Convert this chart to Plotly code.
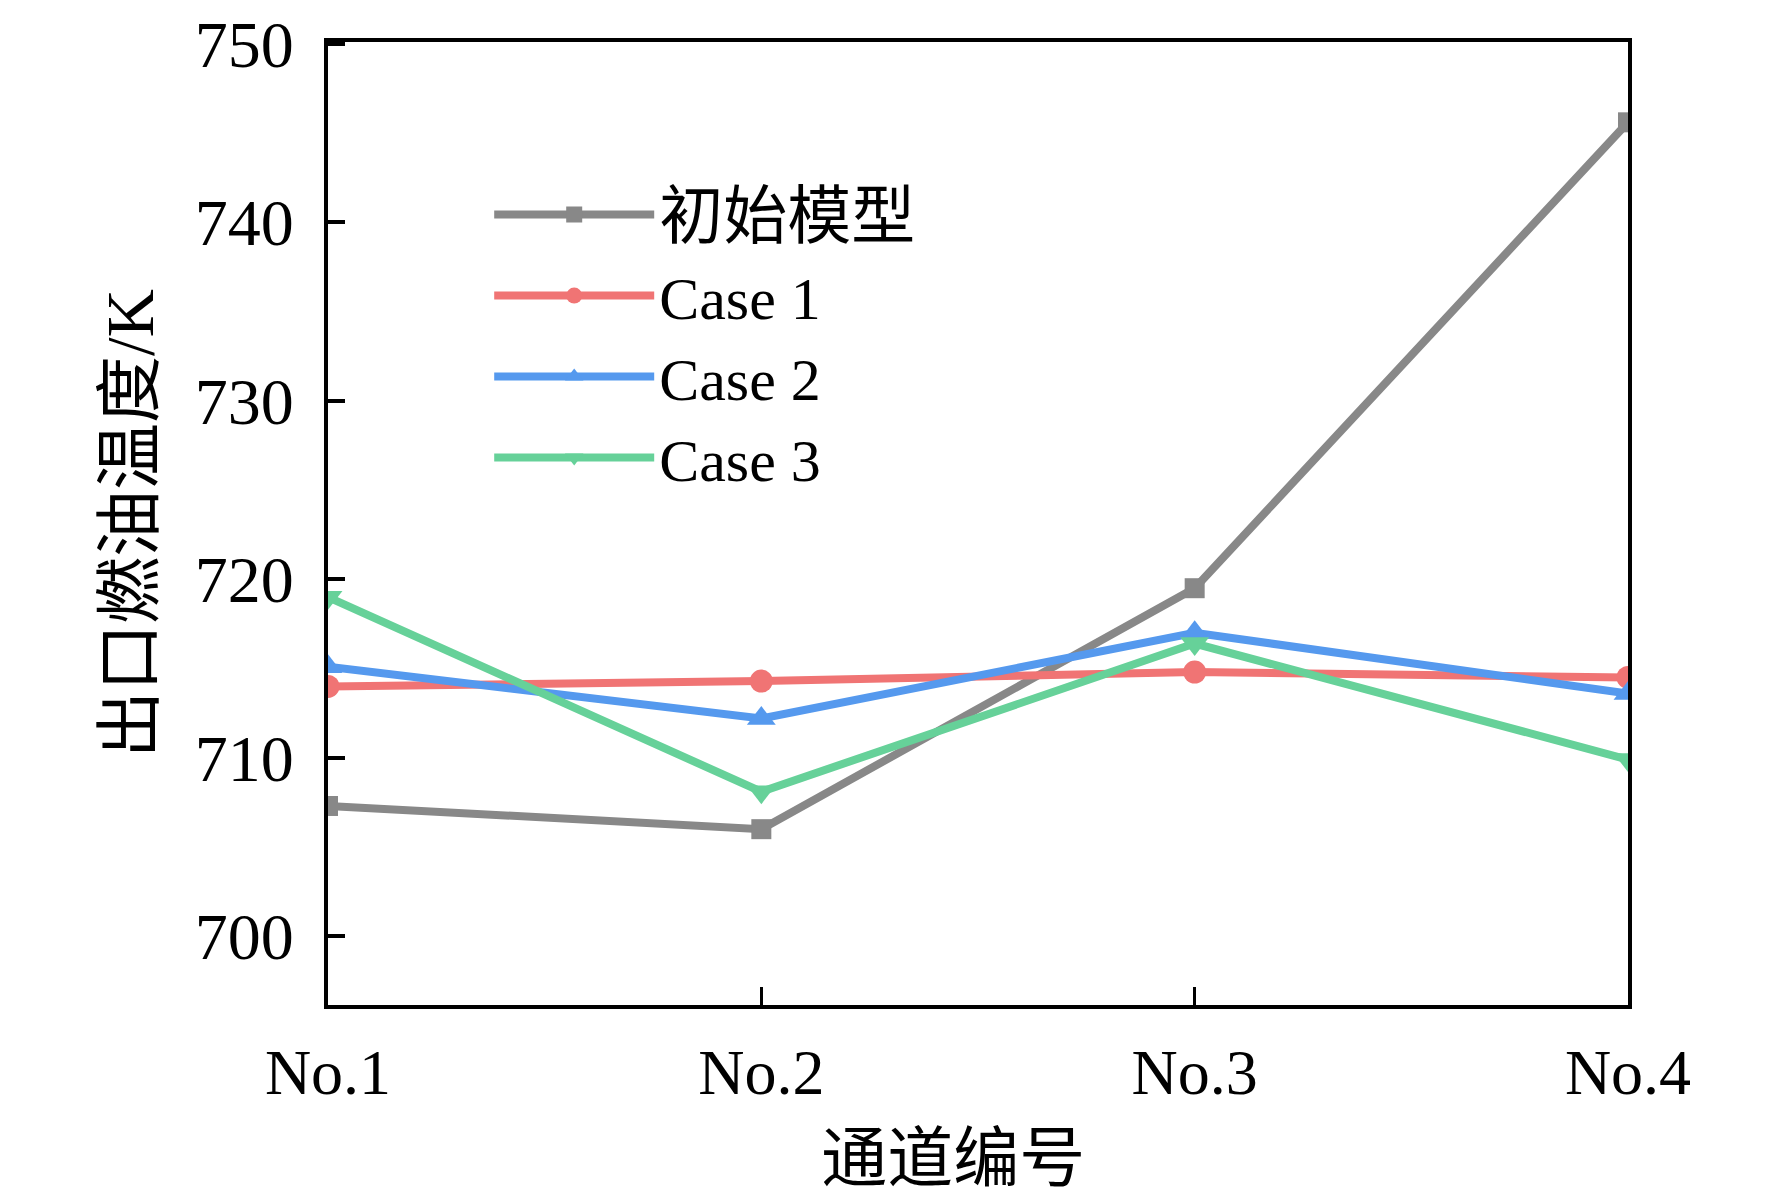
import plotly.graph_objects as go

channels = ["No.1", "No.2", "No.3", "No.4"]
series_names = ["初始模型", "Case 1", "Case 2", "Case 3"]
initial_model = [707.3, 706.0, 719.5, 745.6]
case1 = [714.0, 714.3, 714.8, 714.5]
case2 = [715.1, 712.2, 717.0, 713.6]
case3 = [719.0, 708.1, 716.4, 709.9]
y_ticks = [700, 710, 720, 730, 740, 750]

colors = ["#888888", "#F07474", "#5599EE", "#66D199"]
symbols = ["square", "circle", "triangle-up", "triangle-down"]
sizes = [20, 23, 25, 25]

FONT = "Liberation Serif, Times New Roman, Noto Sans CJK SC"

def legend_label(name):
    if any(ord(ch) > 0x2E80 for ch in name):
        return "<span style='font-size:64px'>" + name + "</span>"
    return name

fig = go.Figure()
for name, vals, c, s, sz in zip(series_names, [initial_model, case1, case2, case3], colors, symbols, sizes):
    fig.add_trace(go.Scatter(
        x=channels, y=vals, name=legend_label(name), mode="lines+markers",
        line=dict(color=c, width=8),
        marker=dict(color=c, symbol=s, size=sz, line=dict(width=0)),
        cliponaxis=True,
    ))

fig.update_layout(
    width=1772, height=1193,
    margin=dict(l=320, r=152, t=34, b=196, autoexpand=False),
    paper_bgcolor="white", plot_bgcolor="white",
    font=dict(family=FONT, size=62, color="black"),
    showlegend=True,
    legend=dict(
        x=0.124, y=0.868, xanchor="left", yanchor="top",
        bgcolor="rgba(0,0,0,0)", borderwidth=0,
        font=dict(family=FONT, size=60, color="black"),
        itemwidth=160, tracegroupgap=0,
    ),
)

fig.update_xaxes(
    type="category", range=[0, 3], automargin=False,
    showline=True, linecolor="black", linewidth=4, mirror=True,
    ticks="inside", ticklen=18, tickwidth=3, tickcolor="black",
    tickfont=dict(family=FONT, size=64),
    ticklabelstandoff=8, ticklabeloverflow="allow",
    showgrid=False, zeroline=False,
    title=dict(text="通道编号&nbsp;&nbsp;&nbsp;", font=dict(family=FONT, size=66), standoff=29),
)
fig.update_yaxes(
    range=[696.15, 750.1], automargin=False,
    tickvals=y_ticks, ticktext=[str(v) for v in y_ticks],
    showline=True, linecolor="black", linewidth=4, mirror=True,
    ticks="inside", ticklen=17, tickwidth=4, tickcolor="black",
    tickfont=dict(family=FONT, size=66),
    ticklabelstandoff=17, ticklabeloverflow="allow",
    showgrid=False, zeroline=False,
    title=dict(text="出口燃油温度/K", font=dict(family=FONT, size=67), standoff=20),
)

fig.write_html("out.html")
